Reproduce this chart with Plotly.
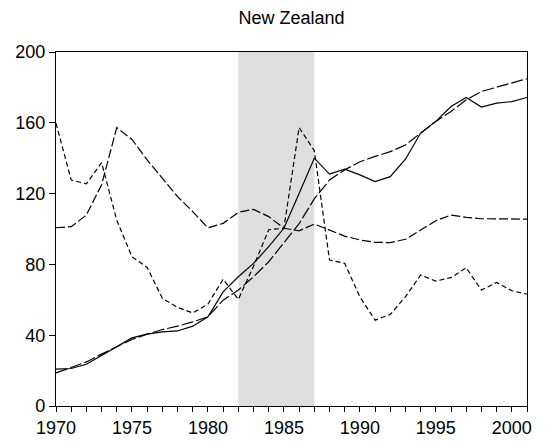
import plotly.graph_objects as go

years = list(range(1970, 2002))

solid_series = [20.8, 21.2, 23.6, 28.7, 33.8, 38.5, 40.6, 41.9, 42.4, 45.1,
                50.4, 64.5, 73.0, 80.6, 90.0, 100.4, 120.0, 140.0, 131.0, 133.8,
                130.6, 126.8, 129.6, 139.4, 154.2, 160.8, 169.2, 174.3, 168.9, 171.1,
                172.0, 174.3]

rising_dash = [18.7, 21.7, 24.9, 29.3, 33.4, 37.6, 40.6, 43.2, 45.1, 47.5,
               50.4, 59.8, 65.5, 73.0, 81.5, 92.0, 103.0, 117.0, 127.7, 133.4,
               138.0, 141.0, 143.7, 147.5, 154.2, 160.8, 166.4, 173.0, 177.7, 180.2,
               182.5, 184.9]

mid_dash = [100.7, 101.3, 107.9, 125.0, 157.3, 150.6, 139.0, 128.7, 118.3, 109.8,
            100.7, 103.2, 109.4, 111.1, 107.0, 100.4, 99.0, 102.8, 99.4, 96.0,
            93.8, 92.5, 92.3, 94.2, 99.4, 104.7, 107.9, 106.6, 105.8, 105.6,
            105.6, 105.6]

short_dash = [159.8, 127.7, 125.5, 137.5, 105.0, 84.3, 78.3, 60.8, 55.7, 52.6,
              57.6, 71.6, 60.2, 79.0, 99.6, 100.4, 157.3, 144.3, 82.5, 80.6,
              61.7, 48.5, 51.7, 61.7, 74.0, 70.6, 72.5, 78.1, 65.5, 69.8,
              65.1, 63.2]

x_ticks = [1970, 1975, 1980, 1985, 1990, 1995, 2000]
y_ticks = [0, 40, 80, 120, 160, 200]

shade_start, shade_end = 1982, 1987

fig = go.Figure()

# shaded period
fig.add_vrect(x0=shade_start, x1=shade_end, fillcolor="#dedede", line_width=0, layer="below")

fig.add_trace(go.Scatter(x=years, y=solid_series, mode="lines",
                         line=dict(color="black", width=1.2)))
fig.add_trace(go.Scatter(x=years, y=rising_dash, mode="lines",
                         line=dict(color="black", width=1.2, dash="12px,3px")))
fig.add_trace(go.Scatter(x=years, y=mid_dash, mode="lines",
                         line=dict(color="black", width=1.2, dash="9px,3px")))
fig.add_trace(go.Scatter(x=years, y=short_dash, mode="lines",
                         line=dict(color="black", width=1.2, dash="5px,3px")))

# page has an 8px body margin, so margins are shifted accordingly
fig.update_layout(
    width=545, height=442,
    margin=dict(l=48, r=26, t=44, b=44),
    paper_bgcolor="white", plot_bgcolor="white",
    showlegend=False,
    font=dict(family="Liberation Sans, Arial, sans-serif", color="black", size=18),
    title=dict(text="New Zealand", x=0.5, xref="paper", xanchor="center",
               y=0.978, yref="container", yanchor="middle",
               font=dict(size=18)),
)

fig.update_xaxes(
    range=[1970, 2001], tickmode="array", tickvals=x_ticks, automargin=False,
    ticks="outside", ticklen=5, tickcolor="black", showgrid=False, zeroline=False,
    showline=True, linecolor="black", linewidth=1.2, mirror=True,
    minor=dict(dtick=1, tick0=1970, ticks="outside", ticklen=5, tickcolor="black", showgrid=False),
)
fig.update_yaxes(
    range=[0, 200], tickvals=y_ticks, automargin=False,
    ticks="outside", ticklen=6, tickcolor="black", showgrid=False, zeroline=False,
    showline=True, linecolor="black", linewidth=1.2, mirror=True,
)

fig.write_html("out.html")
